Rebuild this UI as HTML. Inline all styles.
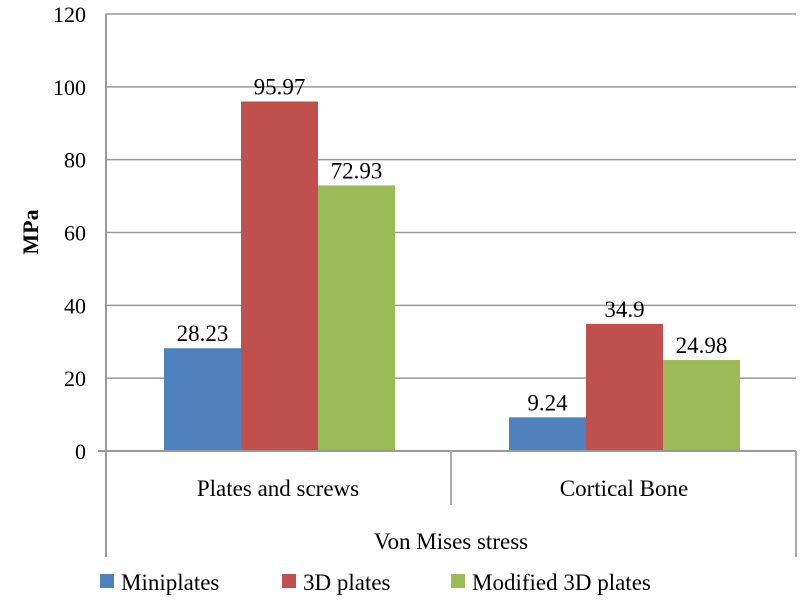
<!DOCTYPE html>
<html><head><meta charset="utf-8"><style>
body{margin:0;background:#fff}
svg,svg text{font-family:"Liberation Serif","DejaVu Serif","Times New Roman",serif}
</style></head><body>
<svg width="800" height="611" viewBox="0 0 800 611">
<g id="grid"></g><g id="bars"></g><g id="labels"></g>
<line x1="106" y1="14" x2="106" y2="557" stroke="#999" stroke-width="2"/>
<line x1="98" y1="451" x2="796" y2="451" stroke="#999" stroke-width="2"/>
<line x1="451" y1="451" x2="451" y2="505" stroke="#aaa" stroke-width="2"/>
<line x1="796" y1="451" x2="796" y2="557" stroke="#aaa" stroke-width="2"/>
<text x="278" y="496" font-size="23" text-anchor="middle">Plates and screws</text>
<text x="624" y="496" font-size="23" text-anchor="middle">Cortical Bone</text>
<text x="451" y="549" font-size="23" text-anchor="middle">Von Mises stress</text>
<text transform="translate(38,232) rotate(-90)" font-size="22" font-weight="bold" text-anchor="middle">MPa</text>
<g>
<rect x="100" y="574" width="14" height="14" fill="#4f81bd"/>
<text x="121" y="590" font-size="23">Miniplates</text>
<rect x="282" y="574" width="14" height="14" fill="#c0504d"/>
<text x="303" y="590" font-size="23">3D plates</text>
<rect x="451" y="574" width="14" height="14" fill="#9bbb59"/>
<text x="472" y="590" font-size="23">Modified 3D plates</text>
</g>
</svg>
<script>
const categories=["Plates and screws","Cortical Bone"];
const miniplates=[28.23,9.24];
const plates3d=[95.97,34.9];
const modified3d=[72.93,24.98];
const valueLabels=[["28.23","95.97","72.93"],["9.24","34.9","24.98"]];
const yTicks=[0,20,40,60,80,100,120];
const NS="http://www.w3.org/2000/svg";
const y0=451,yTop=14,yMax=120;
function y(v){return y0-(v/yMax)*(y0-yTop);}
const xL=106,xR=796,catW=(xR-xL)/categories.length,barW=77;
function xBar(c,s){return xL+c*catW+58+s*barW;}
const grid=document.getElementById('grid');
yTicks.forEach(t=>{
 const l=document.createElementNS(NS,'line');
 l.setAttribute('x1',xL);l.setAttribute('x2',xR);l.setAttribute('y1',y(t));l.setAttribute('y2',y(t));
 l.setAttribute('stroke','#999');l.setAttribute('stroke-width',t===0?0:1.5);
 
 
 grid.appendChild(l);
 const tx=document.createElementNS(NS,'text');
 tx.setAttribute('x',86);tx.setAttribute('y',y(t)+8);tx.setAttribute('text-anchor','end');tx.setAttribute('font-size','22');
 tx.textContent=t;
 
 
 grid.appendChild(tx);
});
const series=[miniplates,plates3d,modified3d];
const colors=["#4f81bd","#c0504d","#9bbb59"];
const bars=document.getElementById('bars'),labels=document.getElementById('labels');
categories.forEach((c,ci)=>{
 series.forEach((s,si)=>{
  const r=document.createElementNS(NS,'rect');
  r.setAttribute('x',xBar(ci,si));r.setAttribute('y',y(s[ci]));r.setAttribute('width',barW);r.setAttribute('height',y0-y(s[ci]));
  r.setAttribute('fill',colors[si]);
  
  
  bars.appendChild(r);
  const t=document.createElementNS(NS,'text');
  t.setAttribute('x',xBar(ci,si)+barW/2);t.setAttribute('y',y(s[ci])-7);t.setAttribute('text-anchor','middle');t.setAttribute('font-size','23');
  t.textContent=valueLabels[ci][si];
  
  
  labels.appendChild(t);
 });
});
</script>
</body></html>
